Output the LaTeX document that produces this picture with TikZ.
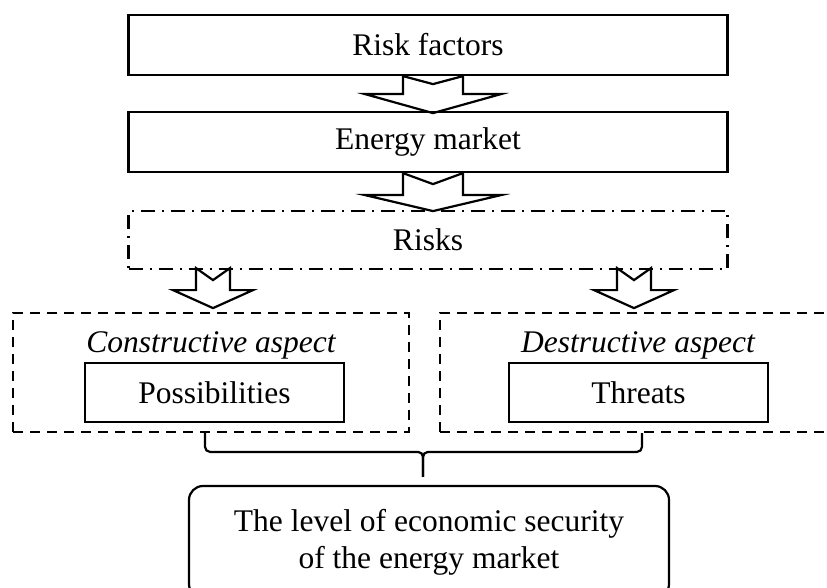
\documentclass[tikz,border=0pt]{standalone}
\usepackage{fontspec}
\setmainfont{Liberation Serif}
\usetikzlibrary{calc}

\begin{document}
\begin{tikzpicture}[x=1pt,y=-1pt,line width=2.2pt,
    every node/.style={font=\fontsize{31.5}{37}\selectfont,inner sep=0pt},
    stage/.style={draw,minimum width=599pt,minimum height=60pt},
    result/.style={draw,minimum width=259pt,minimum height=59pt},
    aspect/.style={draw,dash pattern=on 10pt off 7pt,minimum width=396pt,minimum height=119pt},
    hollow/.style={draw,line join=miter}]
    \clip (0,0) rectangle (827,588);

    % Chain of stages
    \node[stage] (factors) at (428,45) {Risk factors};
    \node[stage] (market) at (428,142) {Energy market};
    \node[stage,dash pattern=on 14pt off 7pt on 2pt off 7pt,minimum height=58pt] (risks) at (428,240) {Risks};

    % Two aspects
    \node[aspect] (constr) at (211,372.5) {};
    \node[aspect] (destr) at (638,372.5) {};
    \node (constrlbl) at (211,345) {\itshape Constructive aspect};
    \node (destrlbl) at (638,345) {\itshape Destructive aspect};
    \node[result] (possib) at (214.5,392.5) {Possibilities};
    \node[result] (threats) at (638.5,392.5) {Threats};

    % Result
    \node[draw,rounded corners=14pt,minimum width=480pt,minimum height=112pt,align=center] (level) at (429,542)
        {The level of economic security\\of the energy market};

    % Hollow arrows
    \draw[hollow] ($(factors.south)+(-25,0)$) -- ++(30,8) -- ++(30,-8) -- ++(0,18) -- ++(38,0)
        -- ++(-68,19) -- ++(-68,-19) -- ++(38,0) -- cycle;
    \draw[hollow] ($(market.south)+(-25,0)$) -- ++(30,11) -- ++(30,-11) -- ++(0,22) -- ++(38,0)
        -- ++(-68,16) -- ++(-68,-16) -- ++(38,0) -- cycle;
    \draw[hollow] ($(risks.south)+(-232,-2)$) -- ++(17,12) -- ++(17,-12) -- ++(0,22) -- ++(23,0)
        -- ++(-40,18) -- ++(-40,-18) -- ++(23,0) -- cycle;
    \draw[hollow] ($(risks.south)+(189,-2)$) -- ++(17,12) -- ++(17,-12) -- ++(0,22) -- ++(23,0)
        -- ++(-40,18) -- ++(-40,-18) -- ++(23,0) -- cycle;

    % Brace
    \coordinate (bl) at ($(constr.south)+(-6,0)$);
    \coordinate (br) at ($(destr.south)+(4,0)$);
    \coordinate (bm) at ($(level.north)+(-6,-8)$);
    \draw[rounded corners=5pt] (bl) |- ($(bm)+(0,-25)$) -- (bm);
    \draw[rounded corners=5pt] (br) |- ($(bm)+(0,-25)$) -- (bm);
\end{tikzpicture}
\end{document}
